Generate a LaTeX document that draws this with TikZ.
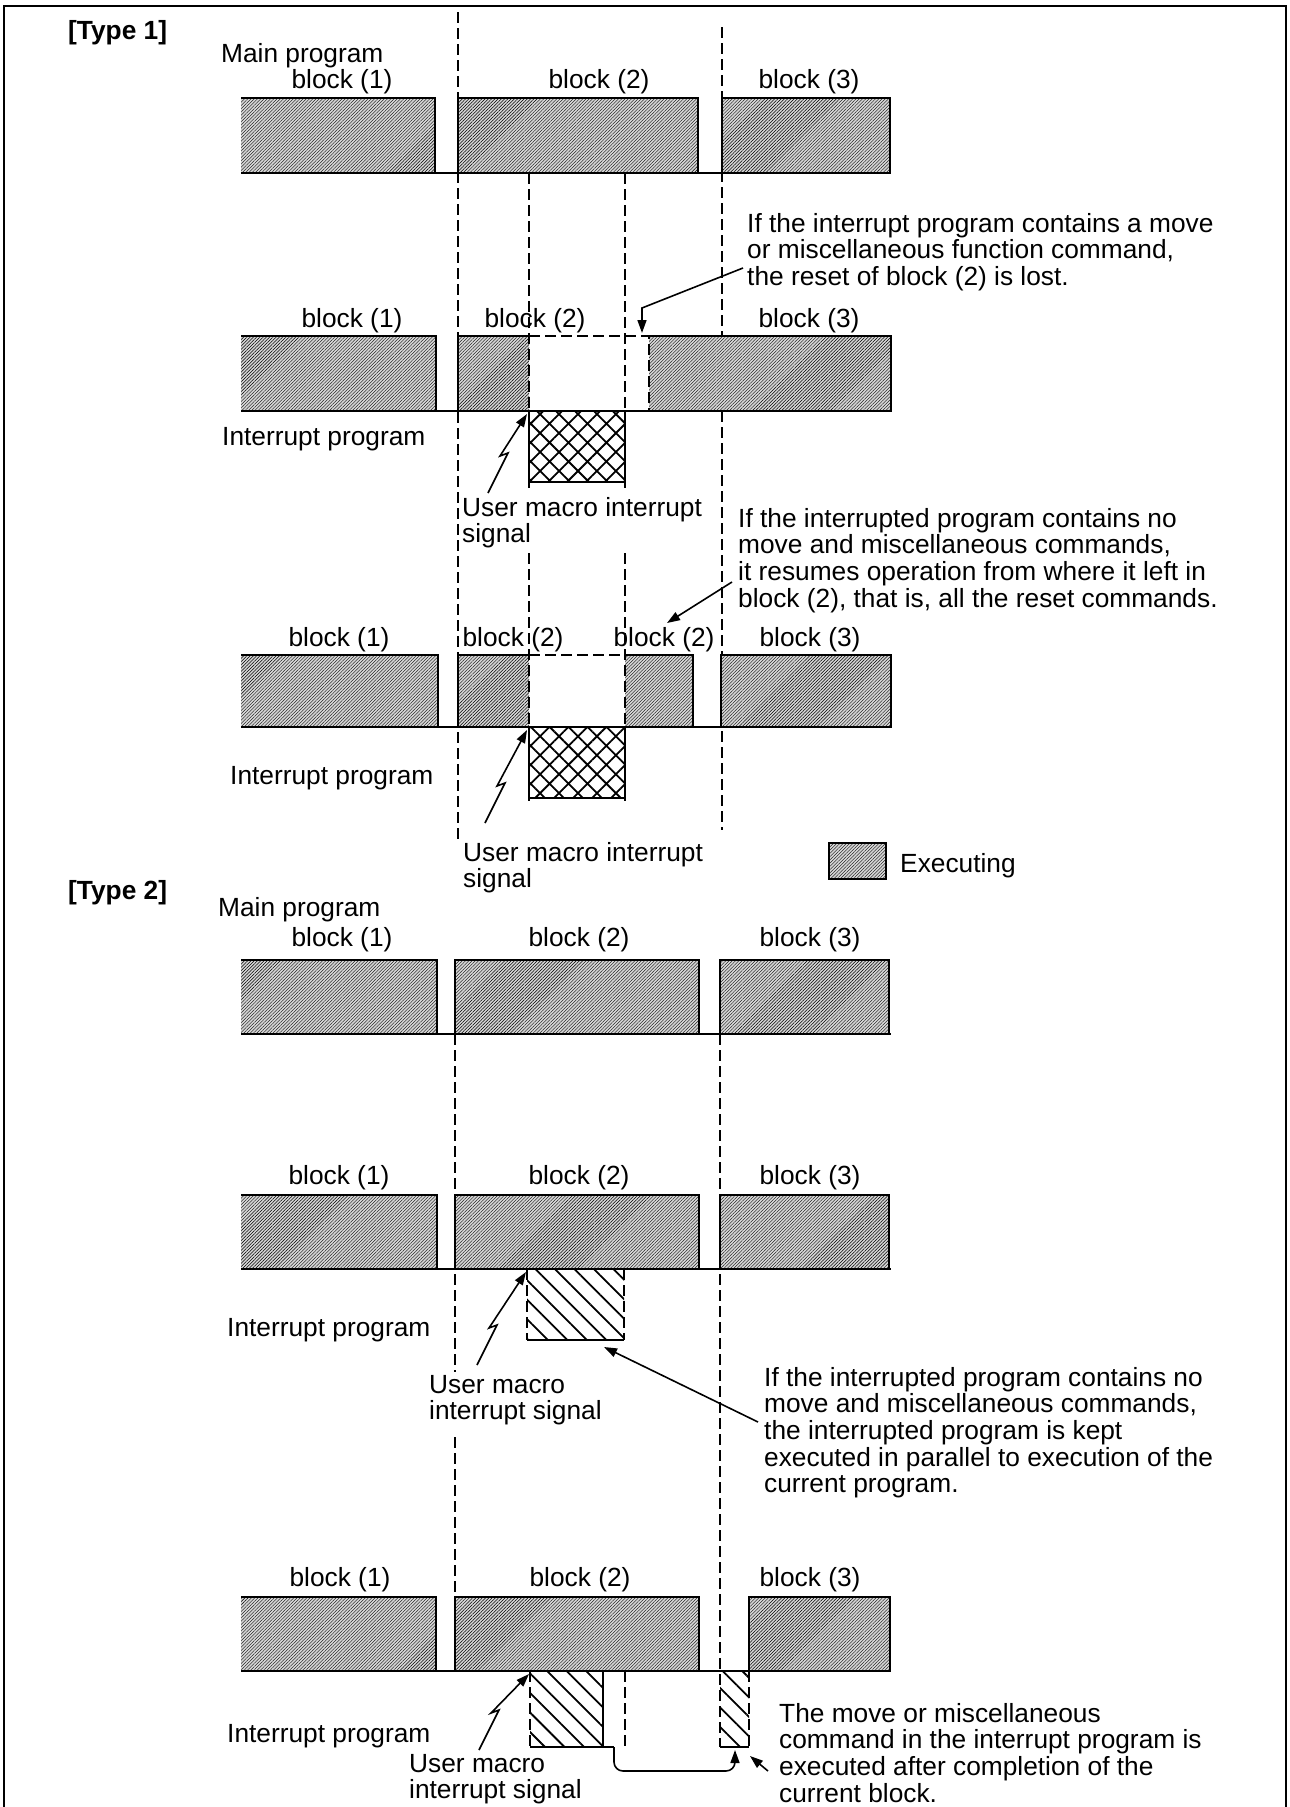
\documentclass[tikz,border=0pt]{standalone}
\usepackage{fontspec}
\setmainfont{Liberation Sans}
\usetikzlibrary{arrows.meta,patterns.meta}
\newcommand{\labfont}{\fontsize{26.3pt}{26.6pt}\selectfont}
\newcommand{\blk}[4]{\fill[exec] (#1,#3) rectangle (#2,#4);
  \draw[rim] (#1,#4) -- (#1,#3) -- (#2,#3) -- (#2,#4) -- cycle;}
\newcommand{\blkopen}[4]{\fill[exec] (#1,#3) rectangle (#2,#4);
  \draw[rim] (#1,#3) -- (#2,#3) -- (#2,#4) -- (#1,#4);}
\tikzset{
  exec/.style={fill=black!16, postaction={pattern={Lines[angle=45,distance=2.3pt,line width=0.4pt]}}},
  rim/.style={line width=2.2pt},
  guide/.style={line width=1.5pt, dash pattern=on 11pt off 5pt},
  xhatch/.style={pattern={Hatch[angle=45,distance=13.4pt,line width=1.8pt]}},
  shatch/.style={pattern={Lines[angle=-45,distance=13.8pt,line width=1.8pt]}},
  txt/.style={font=\labfont, inner sep=0pt, text height=18.8pt, text depth=0pt},
  note/.style={font=\labfont, inner sep=0pt, align=left, anchor=north west},
  ptr/.style={line width=1.6pt, -{Triangle[length=13pt,width=9pt]}},
}

\begin{document}
\begin{tikzpicture}[x=1pt,y=-1pt]
  \useasboundingbox (0,0) rectangle (1290,1807);
  \draw[line width=2.5pt] (4,1807) -- (4,6) -- (1286,6) -- (1286,1807);

  \node[txt, anchor=west, font=\labfont\bfseries] (type1) at (68,30) {[Type 1]};
  \node[txt, anchor=west] (main1) at (221,53) {Main program};
  \node[txt, anchor=west, font=\labfont\bfseries] (type2) at (68,890) {[Type 2]};
  \node[txt, anchor=west] (main2) at (218,907) {Main program};

  \draw[guide] (458,12) -- (458,843);
  \draw[guide] (722,27) -- (722,830);
  \draw[guide] (455,1034) -- (455,1372);
  \draw[guide] (455,1437) -- (455,1597);
  \draw[guide] (720,1034) -- (720,1747);
  \foreach \y in {173,411,727,1034,1269,1671}
    \draw[line width=1.4pt] (241,\y) -- (891,\y);

  \blkopen{241}{435}{98}{173} \blk{458}{698}{98}{173} \blk{722}{890}{98}{173}

  \blkopen{241}{436}{336}{411}
  \fill[exec] (458,336) rectangle (529,411);
  \draw[rim] (529,411) -- (458,411) -- (458,336) -- (529,336);
  \fill[exec] (649,336) rectangle (891,411);
  \draw[rim] (649,336) -- (891,336) -- (891,411) -- (649,411);
  \draw[guide] (529,336) -- (649,336) -- (649,411);

  \blkopen{241}{438}{655}{727}
  \fill[exec] (458,655) rectangle (529,727);
  \draw[rim] (529,727) -- (458,727) -- (458,655) -- (529,655);
  \fill[exec] (625,655) rectangle (693,727);
  \draw[rim] (625,655) -- (693,655) -- (693,727) -- (625,727);
  \draw[guide] (529,655) -- (625,655);
  \blk{721}{891}{655}{727}

  \foreach \x in {529,625}
    { \draw[guide] (\x,173) -- (\x,490);
      \draw[guide] (\x,553) -- (\x,801); }
  \foreach \y in {411,727}
    { \fill[xhatch] (529,\y) rectangle (625,\y+71);
      \draw[rim] (529,\y) |- (625,\y+71) -- (625,\y); }

  \blkopen{241}{437}{960}{1034} \blk{455}{699}{960}{1034} \blk{720}{889}{960}{1034}
  \blkopen{241}{437}{1195}{1269} \blk{455}{699}{1195}{1269} \blk{720}{889}{1195}{1269}
  \blkopen{241}{436}{1597}{1671} \blk{455}{699}{1597}{1671} \blk{749}{890}{1597}{1671}

  \fill[shatch] (527,1269) rectangle (624,1340);
  \draw[guide] (527,1269) -- (527,1340) (624,1269) -- (624,1340);
  \draw[rim] (527,1340) -- (624,1340);
  \fill[shatch] (530,1671) rectangle (603,1747);
  \draw[guide] (530,1671) -- (530,1747) (625,1671) -- (625,1747);
  \draw[line width=1.5pt] (603,1671) -- (603,1747);
  \draw[rim] (530,1747) -- (614,1747);
  \fill[shatch] (720,1671) rectangle (749,1747);
  \draw[guide] (749,1671) -- (749,1747);
  \draw[rim] (720,1747) -- (749,1747);

  \foreach \n/\y/\a/\b/\c in {r1/79/342/599/809, r2/318/352/535/809,
                              r4/937/342/579/810, r5/1175/339/579/810, r6/1577/340/580/810}
    { \node[txt] (\n-a) at (\a,\y) {block (1)};
      \node[txt] (\n-b) at (\b,\y) {block (2)};
      \node[txt] (\n-c) at (\c,\y) {block (3)}; }
  \node[txt] (r3-a) at (339,637) {block (1)};
  \node[txt] (r3-b) at (513,637) {block (2)};
  \node[txt] (r3-d) at (664,637) {block (2)};
  \node[txt] (r3-c) at (810,637) {block (3)};

  \foreach \n/\x/\y in {int2/222/436, int3/230/775, int5/227/1327, int6/227/1733}
    \node[txt, anchor=west] (\n) at (\x,\y) {Interrupt program};
  \node[note] (sig2) at (462,497) {User macro interrupt\\signal};
  \node[note] (sig3) at (463,842) {User macro interrupt\\signal};
  \node[note] (sig5) at (429,1375) {User macro\\interrupt signal};
  \node[note] (sig6) at (409,1754) {User macro\\interrupt signal};

  \coordinate (s2) at (488,493);  \coordinate (h2) at (527,414);
  \coordinate (s3) at (485,823);  \coordinate (h3) at (527,730);
  \coordinate (s5) at (477,1365); \coordinate (h5) at (526,1272);
  \coordinate (s6) at (479,1750); \coordinate (h6) at (529,1674);
  \foreach \s/\h in {s2/h2, s3/h3, s5/h5, s6/h6}
    \draw[ptr] (\s) -- ++(20,-40) -- ++(-8,3) -- (\h);

  \node[note] (note1) at (747,213) {If the interrupt program contains a move\\or miscellaneous function command,\\the reset of block (2) is lost.};
  \node[note] (note2) at (738,508) {If the interrupted program contains no\\move and miscellaneous commands,\\it resumes operation from where it left in\\block (2), that is, all the reset commands.};
  \node[note] (note3) at (764,1367) {If the interrupted program contains no\\move and miscellaneous commands,\\the interrupted program is kept\\executed in parallel to execution of the\\current program.};
  \node[note] (note4) at (779,1703) {The move or miscellaneous\\command in the interrupt program is\\executed after completion of the\\current block.};

  \coordinate (n1) at (743,268); \coordinate (lost) at (642,333);
  \coordinate (n2) at (732,582); \coordinate (rest) at (667,623);
  \coordinate (n3) at (758,1422); \coordinate (par) at (604,1347);
  \coordinate (n4) at (768,1771); \coordinate (late) at (750,1756);
  \draw[ptr] (n1) -- (642,308) -- (lost);
  \draw[ptr] (n2) -- (rest);
  \draw[ptr] (n3) -- (par);
  \draw[ptr] (n4) -- (late);
  \draw[ptr, rounded corners=9pt] (614,1747) |- (735,1771) -- (735,1750);

  \fill[exec] (829,843) rectangle (886,879);
  \draw[line width=1.5pt] (829,843) rectangle (886,879);
  \node[txt, anchor=west] (legend) at (900,863) {Executing};
\end{tikzpicture}
\end{document}
